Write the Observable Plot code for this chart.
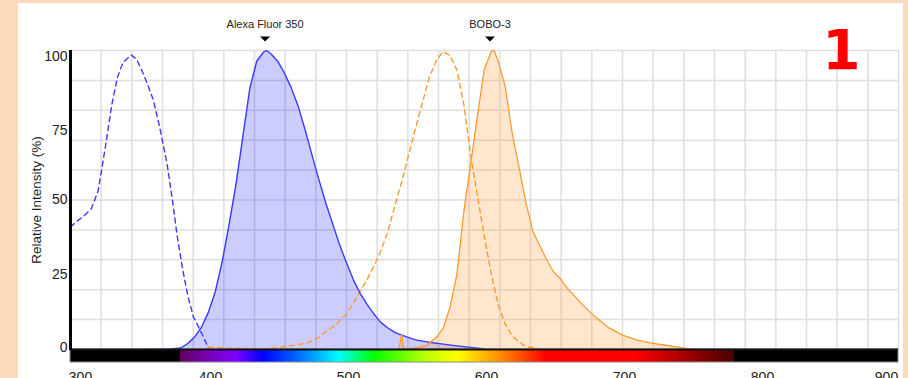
<!DOCTYPE html>
<html><head><meta charset="utf-8">
<script src="https://cdn.jsdelivr.net/npm/d3@7"></script>
<script src="https://cdn.jsdelivr.net/npm/@observablehq/plot@0.6"></script>
<style>
html,body{margin:0;padding:0;}
body{width:908px;height:378px;overflow:hidden;background:#fcd9b8;position:relative;font-family:"Liberation Sans",Arial,sans-serif;}
#panel{position:absolute;left:18px;top:3px;width:885px;height:375px;background:#fff;}
#chart{position:absolute;left:0;top:0;}
#num{position:absolute;left:801.5px;top:23px;width:80px;text-align:center;font:bold 55px/55px "DejaVu Sans";color:#ff0000;}
</style></head>
<body><div id="panel"></div><div id="chart"></div><div id="num">1</div>
<script>
// Alexa Fluor 350 excitation (dashed blue)
const af350ExNm  = [300, 305, 310, 315, 320, 325, 330, 334, 338, 344, 348, 352, 356, 360, 365, 370, 374, 377, 381, 385, 389, 394, 400];
const af350ExVal = [41, 43, 44.8, 47, 53, 67, 82, 91, 96, 98.5, 97, 93, 88.5, 83.5, 73.5, 62, 49.5, 39, 27.5, 18, 11, 6.4, 0.5];
// Alexa Fluor 350 emission (solid blue, filled)
const af350EmNm  = [355, 370, 380, 385, 390, 395, 400, 405, 410, 415, 420, 425, 430, 435, 440, 442, 445, 450, 455, 460, 465, 470, 475, 480, 485, 490, 495, 500, 505, 510, 515, 520, 525, 530, 535, 540, 550, 560, 570, 580, 590, 600];
const af350EmVal = [0, 0.1, 0.5, 2, 4.2, 7.5, 12.5, 19.5, 29.5, 42, 55.5, 71.5, 87.5, 96.5, 99.5, 100, 99, 96.5, 92.5, 87.5, 81.3, 73.5, 65, 56.8, 49, 42, 35, 29, 23.3, 18.7, 15, 11.8, 9, 7.2, 5.7, 4.8, 3.2, 2.4, 1.8, 1.2, 0.7, 0.2];
// BOBO-3 excitation (dashed orange)
const bobo3ExNm  = [400, 420, 440, 450, 460, 470, 475, 480, 485, 490, 495, 500, 505, 510, 515, 520, 525, 530, 535, 540, 545, 550, 555, 560, 565, 570, 575, 580, 585, 590, 595, 600, 605, 610, 615, 620, 625, 630, 640];
const bobo3ExVal = [0.8, 0.4, 0.2, 0.6, 1.3, 2, 2.8, 4, 6, 7.5, 9.5, 12, 15.5, 19.5, 23.5, 28, 33, 39.5, 48, 56, 65, 74, 82.5, 91, 96.5, 99.7, 98.3, 93.5, 82, 65, 51, 37.5, 25, 14.8, 8.5, 4.5, 2.5, 1, 0.2];
// BOBO-3 emission (solid orange, filled)
const bobo3EmNm  = [538, 540, 541, 543, 550, 558, 565, 570, 575, 580, 585, 590, 595, 600, 605, 607, 610, 615, 620, 625, 630, 635, 640, 645, 650, 655, 660, 670, 680, 690, 700, 710, 720, 730, 740, 750];
const bobo3EmVal = [0, 5.2, 1, 0.2, 0.5, 1.3, 4, 7, 14, 25, 46, 62, 78.5, 94, 99.7, 100, 96.3, 88, 72.5, 61, 49.2, 39.5, 34.8, 30, 26, 23.6, 20.5, 15.5, 11, 7.3, 4.8, 3.2, 2.2, 1.5, 0.8, 0];
// peak markers
const markerNames = ["Alexa Fluor 350", "BOBO-3"];
const markerNm    = [441, 604];
// axis ticks
const xTicks = [300, 400, 500, 600, 700, 800, 900];
const yTicks = [0, 25, 50, 75, 100];
const yTitle = "Relative Intensity (%)";
// visible-spectrum colour bar stops
const spectrumNm     = [300, 379.9, 380, 400, 420, 440, 470, 495, 520, 555, 580, 615, 645, 710, 781, 781.5, 900];
const spectrumColors = ["#000000", "#000000", "#5e005e", "#7a00b8", "#8000ff", "#0000ff", "#0080ff", "#00ffff", "#00ff00", "#b0ff00", "#ffff00", "#ff8000", "#ff0000", "#ff0000", "#4a0000", "#000000", "#000000"];

const toRows = (nm, v) => nm.map((x, i) => ({nm: x, v: v[i]}));
const af350Ex = toRows(af350ExNm, af350ExVal);
const af350Em = toRows(af350EmNm, af350EmVal);
const bobo3Ex = toRows(bobo3ExNm, bobo3ExVal);
const bobo3Em = toRows(bobo3EmNm, bobo3EmVal);
const markers = markerNames.map((name, i) => ({name, nm: markerNm[i]}));

const blue = "#3a3aff", orange = "#ff9a33", gridC = "#dedede";
const downTri = {draw(ctx) { ctx.moveTo(-5, -2.5); ctx.lineTo(5, -2.5); ctx.lineTo(0, 2.5); ctx.closePath(); }};
const axisFont = {tickSize: 0, fontSize: 14, fill: "#222", label: null};
const mid = xTicks.slice(1, -1);

const svg = Plot.plot({
  width: 908, height: 378,
  marginLeft: 70, marginRight: 10, marginTop: 50, marginBottom: 16,
  style: {background: "transparent", fontFamily: "Liberation Sans, Arial, sans-serif", overflow: "visible"},
  x: {domain: [300, 900]},
  y: {domain: [-4.35, 100]},
  marks: [
    Plot.ruleY(d3.range(0, 101, 10), {x1: 300, x2: 900, stroke: gridC, strokeWidth: 1.5}),
    Plot.ruleX(d3.range(28).map(i => 300 + i * 600 / 27), {y1: 0, y2: 100, stroke: gridC, strokeWidth: 1.5}),
    Plot.areaY(af350Em, {x: "nm", y: "v", fill: "#0000ff", fillOpacity: 0.2}),
    Plot.areaY(bobo3Em, {x: "nm", y: "v", fill: orange, fillOpacity: 0.25}),
    Plot.line(af350Ex, {x: "nm", y: "v", stroke: blue, strokeWidth: 1.4, strokeDasharray: "5,4"}),
    Plot.line(bobo3Ex, {x: "nm", y: "v", stroke: orange, strokeWidth: 1.4, strokeDasharray: "5,4"}),
    Plot.line(af350Em, {x: "nm", y: "v", stroke: blue, strokeWidth: 1.4}),
    Plot.line(bobo3Em, {x: "nm", y: "v", stroke: orange, strokeWidth: 1.3}),
    Plot.rect([0], {x1: 300, x2: 900, y1: 0, y2: -4.35, fill: "url(#spec)", stroke: "#8a8a8a", strokeWidth: 1}),
    Plot.ruleY([0], {x1: 300, x2: 900, stroke: "#111", strokeWidth: 2}),
    Plot.ruleX([300], {y1: -0.3, y2: 100, stroke: "#000", strokeWidth: 3}),
    Plot.axisX([xTicks[0]], {...axisFont, anchor: "bottom", tickPadding: 10, dx: 10}),
    Plot.axisX(mid, {...axisFont, anchor: "bottom", tickPadding: 10, dx: 2}),
    Plot.axisX([xTicks[xTicks.length - 1]], {...axisFont, anchor: "bottom", tickPadding: 10, dx: -12}),
    Plot.axisY([yTicks[4]], {...axisFont, anchor: "left", tickPadding: 3, dy: 6.5}),
    Plot.axisY([yTicks[3]], {...axisFont, anchor: "left", tickPadding: 3, dy: 5}),
    Plot.axisY([yTicks[2], yTicks[1]], {...axisFont, anchor: "left", tickPadding: 3}),
    Plot.axisY([yTicks[0]], {...axisFont, anchor: "left", tickPadding: 3, dy: -2}),
    Plot.text([yTitle], {x: 300, y: 50, text: d => d, rotate: -90, textAnchor: "middle", dx: -33.5, dy: 0, fontSize: 13.5, fill: "#222"}),
    Plot.text(markers, {x: "nm", y: 100, text: "name", dy: -26, fontSize: 11, fill: "#222"}),
    Plot.dot(markers, {x: "nm", y: 100, dy: -11.5, symbol: downTri, fill: "#000", stroke: "none"})
  ]
});

const xs = svg.scale("x").domain;
const grad = d3.select(svg).insert("defs", ":first-child")
  .append("linearGradient").attr("id", "spec")
  .attr("x1", 0).attr("x2", 1).attr("y1", 0).attr("y2", 0);
spectrumNm.forEach((nm, i) => {
  grad.append("stop").attr("offset", (nm - xs[0]) / (xs[1] - xs[0])).attr("stop-color", spectrumColors[i]);
});
document.getElementById("chart").appendChild(svg);
</script>
</body></html>
